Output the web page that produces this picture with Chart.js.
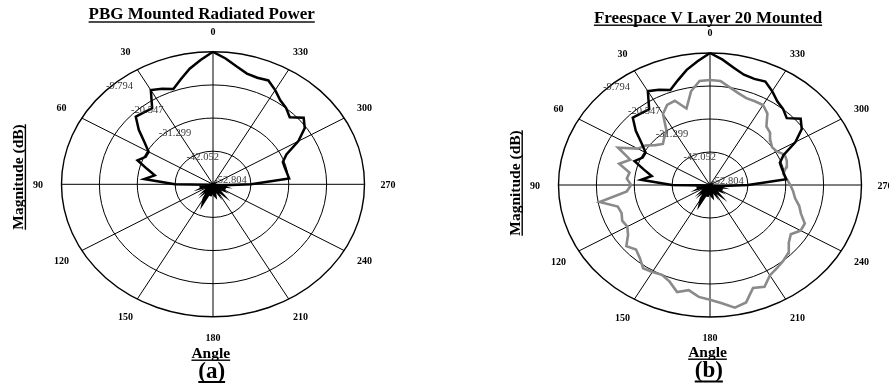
<!DOCTYPE html>
<html>
<head>
<meta charset="utf-8">
<script src="https://cdn.jsdelivr.net/npm/chart.js@4/dist/chart.umd.min.js"></script>
<style>
  html, body { margin: 0; padding: 0; background: #ffffff; }
  #wrap { position: relative; width: 889px; height: 385px; overflow: hidden; }
  canvas { position: absolute; top: 0; }
  #chartA { left: 0; }
  #chartB { left: 445px; }
</style>
</head>
<body>
<div id="wrap">
  <canvas id="chartA" width="444" height="385"></canvas>
  <canvas id="chartB" width="444" height="385"></canvas>
</div>
<script>
// Measurement angles (degrees, counter-clockwise from boresight)
const angleDeg = [
  0, 5, 10, 15, 20, 25, 30, 35, 40, 45, 50, 55,
  60, 65, 70, 75, 80, 85, 90, 95, 100, 105, 110, 115,
  120, 125, 130, 135, 140, 145, 150, 155, 160, 165, 170, 175,
  180, 185, 190, 195, 200, 205, 210, 215, 220, 225, 230, 235,
  240, 245, 250, 255, 260, 265, 270, 275, 280, 285, 290, 295,
  300, 305, 310, 315, 320, 325, 330, 335, 340, 345, 350, 355
];

// PBG mounted radiated power (dB)
const pbgMounted = [
  -9.8, -12.3, -14.7, -17.5, -19.9, -18.6, -17.5, -22.7, -22.3, -21.8, -25.3, -29.1,
  -31.7, -31.7, -30.0, -33.4, -36.0, -33.2, -42.0, -51.1, -48.9, -50.7, -49.8, -51.5,
  -50.2, -51.5, -50.7, -51.9, -50.2, -51.1, -47.6, -45.9, -49.4, -51.1, -48.9, -51.5,
  -50.2, -49.4, -48.9, -51.5, -50.7, -49.8, -51.5, -50.2, -48.9, -51.5, -50.7, -49.8,
  -51.1, -48.9, -51.1, -50.2, -51.5, -49.4, -42.0, -31.1, -31.5, -31.7, -31.7, -29.8,
  -24.8, -21.0, -19.2, -22.0, -20.5, -19.5, -17.5, -15.6, -16.0, -15.6, -14.0, -11.8
];

// Freespace V, layer 20 mounted (dB)
const freespaceV20 = [
  -18.6, -18.8, -21.8, -27.0, -23.6, -24.0, -26.1, -31.3, -32.6, -33.9, -32.6, -30.4,
  -29.1, -24.0, -28.7, -26.1, -29.6, -29.1, -30.4, -29.1, -21.0, -25.7, -26.1, -25.3,
  -25.7, -24.4, -21.8, -23.1, -21.8, -19.7, -20.1, -20.5, -19.3, -16.7, -18.0, -16.2,
  -15.4, -14.1, -12.2, -13.2, -17.1, -16.2, -18.8, -19.7, -20.5, -21.4, -23.6, -24.8,
  -23.1, -23.1, -25.3, -26.6, -28.3, -29.1, -30.0, -30.9, -31.7, -30.4, -29.6, -29.4,
  -30.9, -31.3, -30.4, -28.7, -27.9, -24.4, -22.7, -22.7, -22.7, -21.8, -20.5, -18.8
];

// Radial (magnitude) ticks, centre to rim
const ringTicks = ['-52.804', '-42.052', '-31.299', '-20.547', '-9.794'];
// Angular ticks around the rim
const spokeTicks = ['0', '30', '60', '90', '120', '150', '180', '210', '240', '270', '300', '330'];

const R_MIN = parseFloat(ringTicks[0]);
const R_MAX = parseFloat(ringTicks[ringTicks.length - 1]);
const SERIF = '"Liberation Serif", "Times New Roman", serif';

// Polar (angle, dB) -> normalised cartesian point on the unit ellipse
function toPoints(values) {
  const pts = angleDeg.map((a, i) => {
    const f = Math.max(0, (values[i] - R_MIN) / (R_MAX - R_MIN));
    const t = a * Math.PI / 180;
    return { x: -f * Math.sin(t), y: f * Math.cos(t) };
  });
  pts.push(pts[0]);
  return pts;
}

function underlined(ctx, text, x, y, lw, gap) {
  ctx.fillText(text, x, y);
  const w = ctx.measureText(text).width;
  let x0 = x;
  if (ctx.textAlign === 'center') x0 = x - w / 2;
  ctx.fillRect(x0, y + gap, w, lw);
}

// Grid, tick labels and titles of the elliptical polar frame
const polarFrame = {
  id: 'polarFrame',
  beforeDatasetsDraw(chart, args, opts) {
    const { ctx, scales: { x, y } } = chart;
    const cx = x.getPixelForValue(0), cy = y.getPixelForValue(0);
    const rx = x.getPixelForValue(1) - cx, ry = cy - y.getPixelForValue(1);
    ctx.save();
    ctx.strokeStyle = '#000';
    const n = ringTicks.length - 1;
    for (let k = 1; k <= n; k++) {
      ctx.lineWidth = k === n ? 1.4 : 1;
      ctx.beginPath();
      ctx.ellipse(cx, cy, rx * k / n, ry * k / n, 0, 0, Math.PI * 2);
      ctx.stroke();
    }
    ctx.lineWidth = 1;
    for (let i = 0; i < spokeTicks.length; i++) {
      const t = parseFloat(spokeTicks[i]) * Math.PI / 180;
      ctx.beginPath();
      ctx.moveTo(cx, cy);
      ctx.lineTo(x.getPixelForValue(-Math.sin(t)), y.getPixelForValue(Math.cos(t)));
      ctx.stroke();
    }
    ctx.restore();
  },
  afterDraw(chart, args, opts) {
    const { ctx, scales: { x, y } } = chart;
    const cx = x.getPixelForValue(0), cy = y.getPixelForValue(0);
    const rx = x.getPixelForValue(1) - cx, ry = cy - y.getPixelForValue(1);
    ctx.save();
    ctx.textAlign = 'center';
    ctx.textBaseline = 'middle';

    // rim angle labels
    ctx.fillStyle = '#000';
    ctx.font = 'bold 10px ' + SERIF;
    spokeTicks.forEach(s => {
      const t = parseFloat(s) * Math.PI / 180;
      ctx.fillText(s, cx - 1.155 * rx * Math.sin(t), cy - 1.155 * ry * Math.cos(t) + 1);
    });

    // magnitude labels stepping out from the centre
    ctx.fillStyle = '#3a3a3a';
    ctx.font = '10.5px ' + SERIF;
    ringTicks.forEach((s, k) => {
      ctx.fillText(s, cx + 17.5 - 27.75 * k, cy - 4 - 23.4 * k);
    });

    // titles
    ctx.fillStyle = '#000';
    ctx.textBaseline = 'alphabetic';
    ctx.font = 'bold 17px ' + SERIF;
    underlined(ctx, opts.title, opts.titleX, opts.titleY, 1.4, 2);

    ctx.font = 'bold 15.5px ' + SERIF;
    underlined(ctx, 'Angle', opts.angleX, opts.angleY, 1.4, 2);

    ctx.font = 'bold 23px ' + SERIF;
    underlined(ctx, opts.tag, opts.tagX, opts.tagY, 2, 3.5);

    ctx.save();
    ctx.translate(opts.magX, opts.magY);
    ctx.rotate(-Math.PI / 2);
    ctx.font = 'bold 15.5px ' + SERIF;
    underlined(ctx, 'Magnitude (dB)', 0, 0, 1.4, 1.5);
    ctx.restore();

    ctx.restore();
  }
};

function makeChart(id, datasets, frame, pad) {
  return new Chart(document.getElementById(id), {
    type: 'scatter',
    data: { datasets },
    options: {
      responsive: false,
      animation: false,
      devicePixelRatio: 1,
      layout: { padding: pad },
      scales: {
        x: { type: 'linear', min: -1, max: 1, display: false },
        y: { type: 'linear', min: -1, max: 1, display: false }
      },
      plugins: {
        legend: { display: false },
        tooltip: { enabled: false },
        polarFrame: frame
      }
    },
    plugins: [polarFrame]
  });
}

const blackLine = (data) => ({
  label: 'PBG Mounted', data: toPoints(data), showLine: true,
  borderColor: '#000000', borderWidth: 2.5, pointRadius: 0, tension: 0,
  clip: false, order: 0, borderJoinStyle: 'miter'
});
const greyLine = (data) => ({
  label: 'Freespace V Layer 20', data: toPoints(data), showLine: true,
  borderColor: '#8a8a8a', borderWidth: 2.6, pointRadius: 0, tension: 0,
  clip: false, order: 1, borderJoinStyle: 'miter'
});

makeChart('chartA', [blackLine(pbgMounted)], {
  title: 'PBG Mounted Radiated Power', titleX: 201.7, titleY: 19.3,
  angleX: 210.8, angleY: 357.5,
  tag: '(a)', tagX: 211.7, tagY: 377.5,
  magX: 23.2, magY: 177
}, { left: 61.5, right: 79.5, top: 51.8, bottom: 68.2 });

makeChart('chartB', [blackLine(pbgMounted), greyLine(freespaceV20)], {
  title: 'Freespace V Layer 20 Mounted', titleX: 263, titleY: 22.5,
  angleX: 262.5, angleY: 356.5,
  tag: '(b)', tagX: 263.8, tagY: 377,
  magX: 75, magY: 183
}, { left: 113.5, right: 27.5, top: 53, bottom: 68 });
</script>
</body>
</html>
